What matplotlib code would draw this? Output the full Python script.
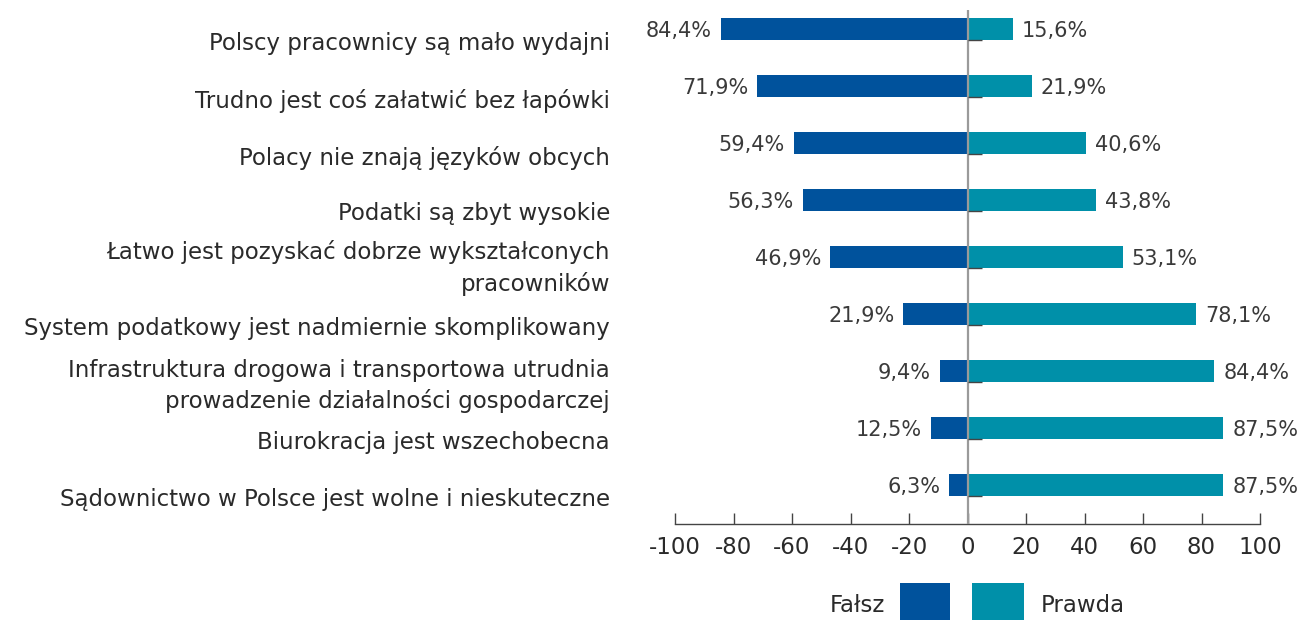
import matplotlib
matplotlib.use("Agg")
import matplotlib.pyplot as plt
import matplotlib.transforms as mtransforms
from matplotlib.patches import Rectangle

categories = [
    "Polscy pracownicy są mało wydajni",
    "Trudno jest coś załatwić bez łapówki",
    "Polacy nie znają języków obcych",
    "Podatki są zbyt wysokie",
    "Łatwo jest pozyskać dobrze wykształconych\npracowników",
    "System podatkowy jest nadmiernie skomplikowany",
    "Infrastruktura drogowa i transportowa utrudnia\nprowadzenie działalności gospodarczej",
    "Biurokracja jest wszechobecna",
    "Sądownictwo w Polsce jest wolne i nieskuteczne",
]
falsz = [84.4, 71.9, 59.4, 56.3, 46.9, 21.9, 9.4, 12.5, 6.3]
prawda = [15.6, 21.9, 40.6, 43.8, 53.1, 78.1, 84.4, 87.5, 87.5]
xticks = [-100, -80, -60, -40, -20, 0, 20, 40, 60, 80, 100]
legend_labels = ["Fałsz", "Prawda"]

C_F = "#00529c"
C_P = "#0090a9"
TXT = "#3a3a3a"
plt.rcParams['font.family'] = ['DejaVu Sans']

fig = plt.figure(figsize=(13.01, 6.2), dpi=100)
ax = fig.add_axes([675/1301, 1-524/620, 585/1301, (524-10)/620])

y = list(range(len(categories)))
h = 0.39
ax.barh(y, [-v for v in falsz], height=h, color=C_F)
ax.barh(y, prawda, height=h, color=C_P)
ax.set_xlim(-100, 100)
ax.set_ylim(8.684, -0.333)

ax.axvline(0, color="#9a9a9a", lw=1.6, zorder=3)
for yi in y:
    ax.plot([0, 5], [yi + h/2, yi + h/2], color="#444444", lw=1.0, zorder=4, solid_capstyle='butt')

for sp in ["top", "right", "left"]:
    ax.spines[sp].set_visible(False)
ax.spines["bottom"].set_color("#444444")
ax.spines["bottom"].set_linewidth(1.0)
ax.set_yticks([])
ax.set_xticks(xticks)
ax.set_xticklabels([str(t) for t in xticks])
ax.tick_params(axis='x', direction='in', length=8, width=1.0, color="#444444",
               labelsize=16.5, labelcolor="#2a2a2a", pad=9)

def fmt(v):
    return f"{v:.1f}".replace(".", ",") + "%"

for yi, f, p in zip(y, falsz, prawda):
    ax.annotate(fmt(f), xy=(-f, yi), xytext=(-9, -2), textcoords='offset pixels',
                ha='right', va='center', fontsize=15, color=TXT)
    ax.annotate(fmt(p), xy=(p, yi), xytext=(9, -2), textcoords='offset pixels',
                ha='left', va='center', fontsize=15, color=TXT)

trans = mtransforms.blended_transform_factory(ax.transAxes, ax.transData)
offs = [15, 15, 15, 14, 11, 15, 15, 14, 14]
for yi, lab, o in zip(y, categories, offs):
    ax.annotate(lab, xy=(0, yi), xycoords=trans, xytext=(-65, -o), textcoords='offset pixels',
                ha='right', va='center', multialignment='right', fontsize=16.5,
                color="#2a2a2a", linespacing=1.38)

# legend
fig.text(885/1301, 1-606/620, legend_labels[0], ha='right', va='center', fontsize=16.5, color="#2a2a2a")
fig.patches.append(Rectangle((900/1301, 0), 50/1301, 37/620, transform=fig.transFigure,
                             facecolor=C_F, edgecolor='none', figure=fig))
fig.patches.append(Rectangle((972/1301, 0), 52/1301, 37/620, transform=fig.transFigure,
                             facecolor=C_P, edgecolor='none', figure=fig))
fig.text(1041/1301, 1-606/620, legend_labels[1], ha='left', va='center', fontsize=16.5, color="#2a2a2a")

fig.savefig("out.png", dpi=100)
